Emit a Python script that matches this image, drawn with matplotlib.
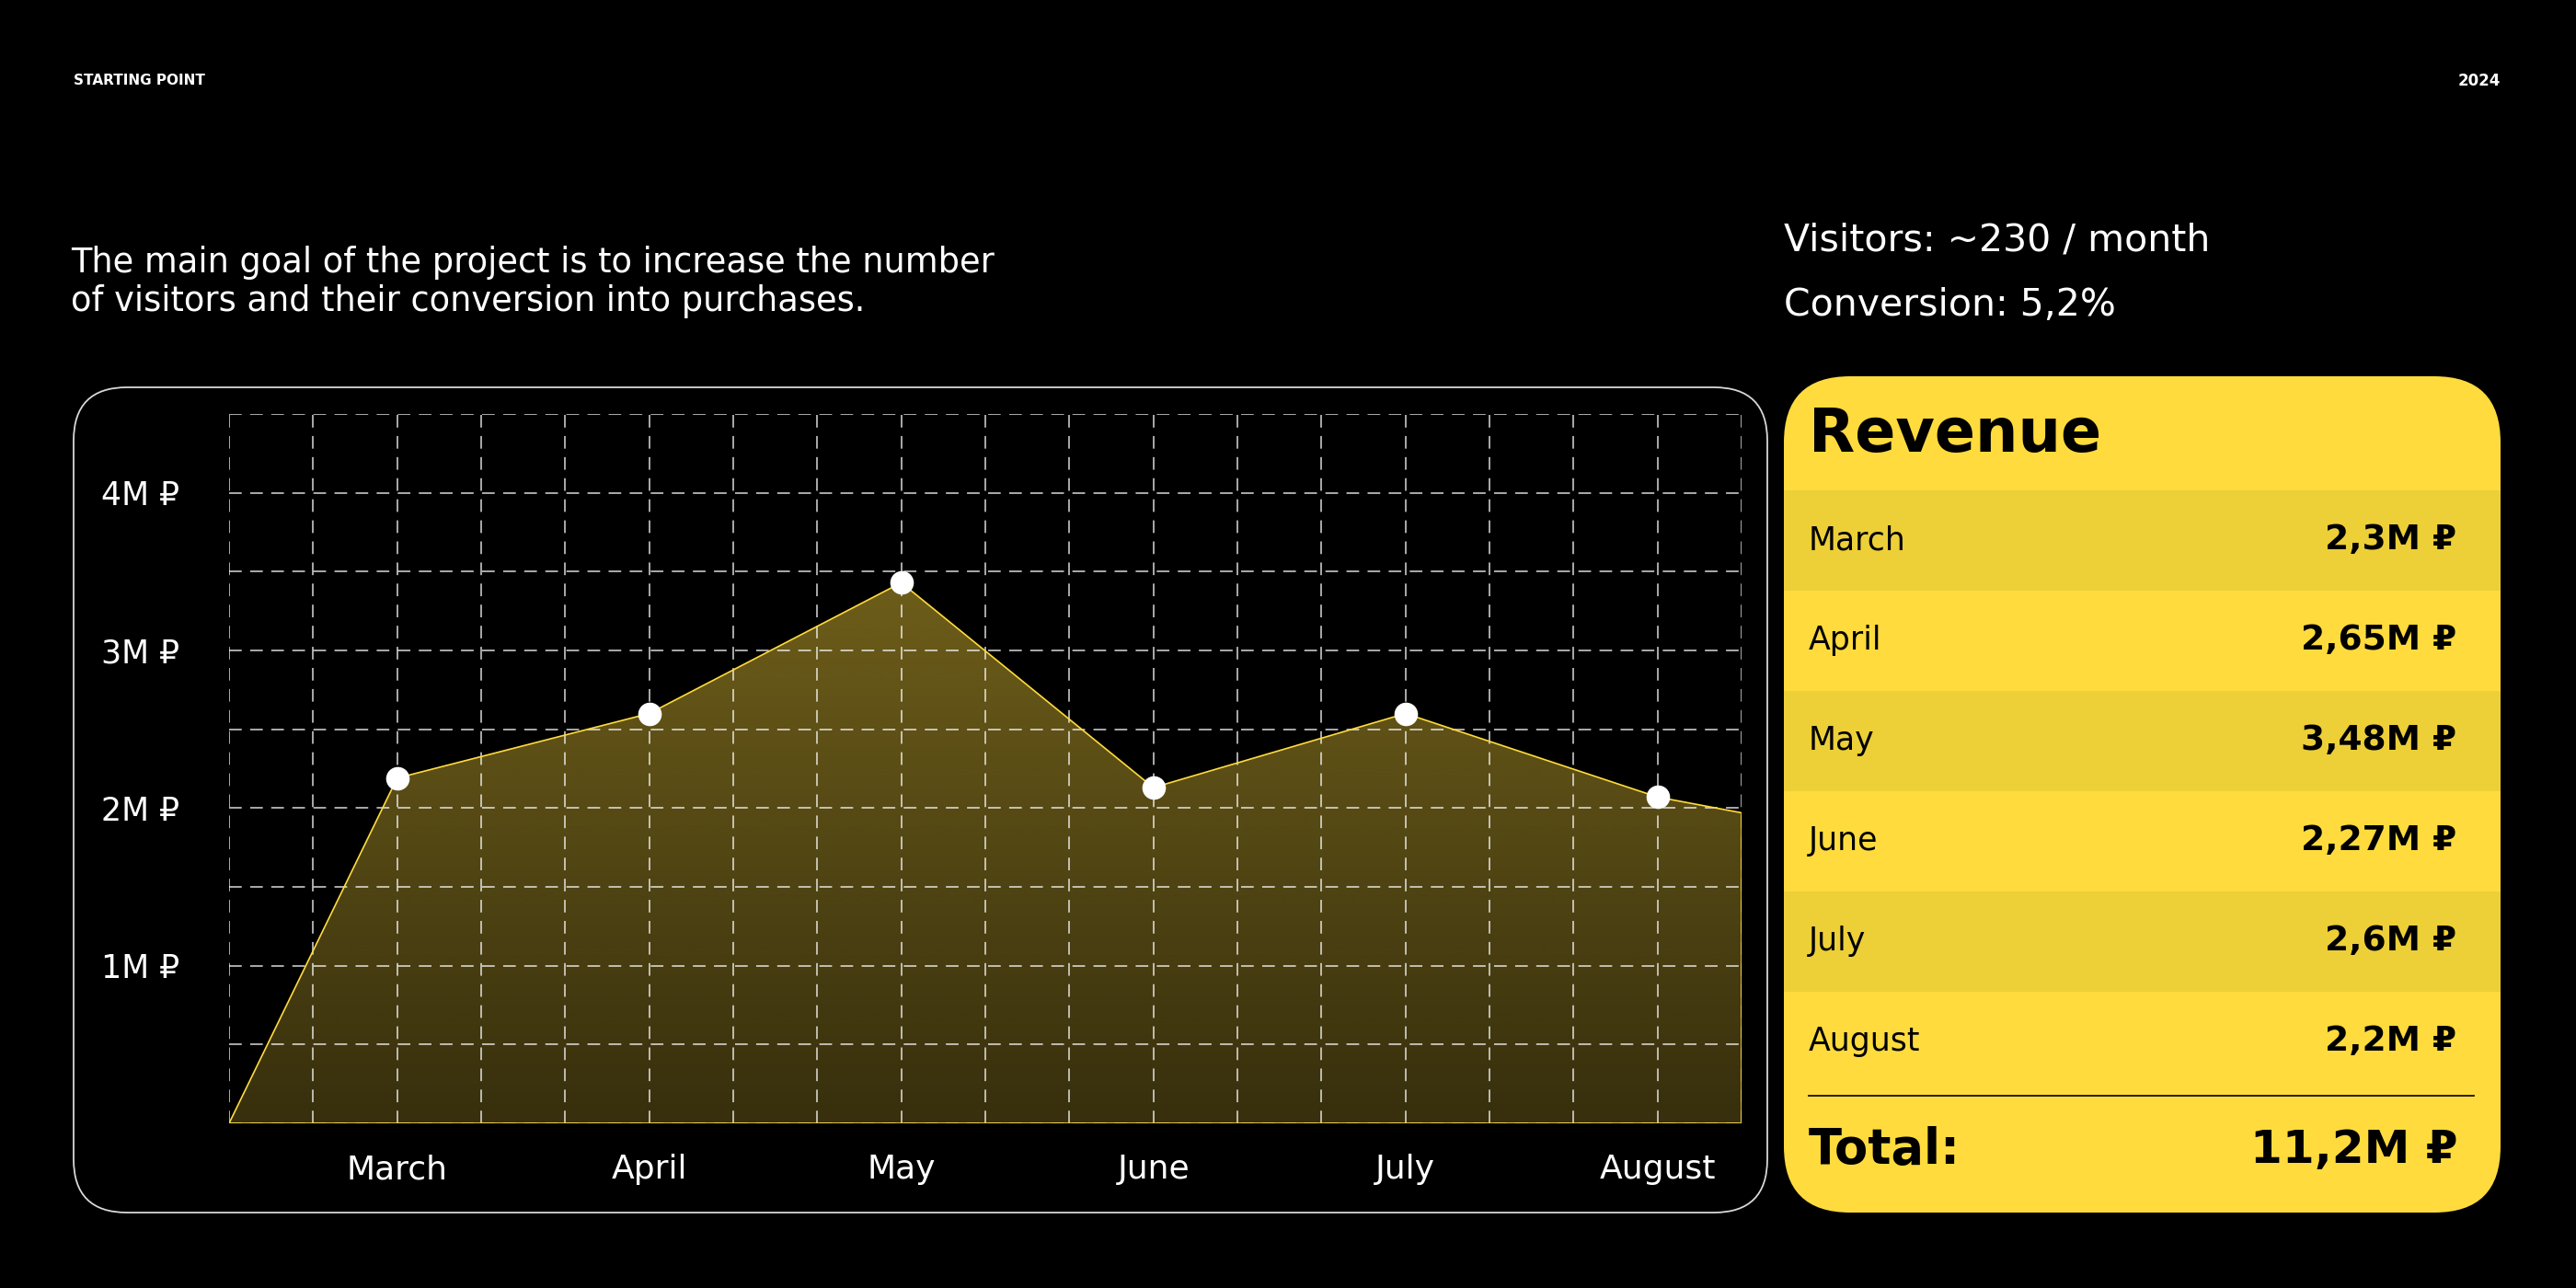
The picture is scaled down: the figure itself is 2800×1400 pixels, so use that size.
import numpy as np
import matplotlib
matplotlib.use("Agg")
import matplotlib.pyplot as plt
from matplotlib.patches import FancyBboxPatch, Rectangle, Polygon

# data (values in millions of rubles)
months = ["March", "April", "May", "June", "July", "August"]
chart_values = [2.19, 2.60, 3.43, 2.13, 2.60, 2.07]
line_start_value = 0.0      # line starts at the bottom-left corner of the grid
line_end_value = 1.97       # value where the line leaves the right edge
y_ticks = [1, 2, 3, 4]
y_tick_labels = ["1M ₽", "2M ₽", "3M ₽", "4M ₽"]

table_months = ["March", "April", "May", "June", "July", "August"]
table_values = ["2,3M ₽", "2,65M ₽", "3,48M ₽", "2,27M ₽", "2,6M ₽", "2,2M ₽"]
total_label = "Total:"
total_value = "11,2M ₽"

header_left = "STARTING POINT"
header_right = "2024"
subtitle = ["The main goal of the project is to increase the number",
            "of visitors and their conversion into purchases."]
stats = ["Visitors: ~230 / month", "Conversion: 5,2%"]

YELLOW = "#FFDB3D"
YELLOW_DARK = "#EDCF38"
W, H = 2800, 1400

plt.rcParams["font.family"] = ["DejaVu Sans"]
fig = plt.figure(figsize=(W / 100, H / 100), dpi=100, facecolor="black")

# background layer in pixel coordinates
bg = fig.add_axes([0, 0, 1, 1], zorder=0)
bg.set_xlim(0, W)
bg.set_ylim(H, 0)
bg.axis("off")
bg.set_facecolor("black")

# chart card outline
bg.add_patch(FancyBboxPatch((80, 421), 1841, 897,
                            boxstyle="round,pad=0,rounding_size=58",
                            fc="none", ec="#d8d8d8", lw=1.3))
# revenue card
bg.add_patch(FancyBboxPatch((1939, 409), 779, 909,
                            boxstyle="round,pad=0,rounding_size=72",
                            fc=YELLOW, ec="none"))

row_y0, row_step, row_h = 587, 109, 109
for i, (m, v) in enumerate(zip(table_months, table_values)):
    y = row_y0 + i * row_step
    if i % 2 == 0:
        bg.add_patch(Rectangle((1939, y - row_h / 2), 779, row_h,
                               fc=YELLOW_DARK, ec="none"))
    bg.text(1966, y, m, fontsize=25, color="black", va="center", ha="left")
    bg.text(2670, y, v, fontsize=27, color="black", va="center", ha="right",
            fontweight="bold")

bg.text(1966, 473, "Revenue", fontsize=47, fontweight="bold",
        color="black", va="center", ha="left")
bg.plot([1966, 2689], [1191, 1191], color="#111111", lw=1.3)
bg.text(1966, 1250, total_label, fontsize=38, fontweight="bold",
        color="black", va="center", ha="left")
bg.text(2671, 1250, total_value, fontsize=36, fontweight="bold",
        color="black", va="center", ha="right")

# header / descriptive text
bg.text(80, 88, header_left, fontsize=11, fontweight="bold",
        color="white", va="center", ha="left")
bg.text(2718, 88, header_right, fontsize=12, fontweight="bold",
        color="white", va="center", ha="right")
for i, line in enumerate(subtitle):
    bg.text(77, 286 + i * 41, line, fontsize=26.5, color="white",
            va="center", ha="left")
for i, line in enumerate(stats):
    bg.text(1939, 262 + i * 70, line, fontsize=29.5, color="white",
            va="center", ha="left")

# chart
ax = fig.add_axes([249 / W, (H - 1221) / H, 1644 / W, 771 / H], zorder=1)
ax.set_facecolor("none")
x = np.arange(len(months))
x_lo, x_hi = -2 / 3, len(months) - 2 / 3
ax.set_xlim(x_lo, x_hi)
ax.set_ylim(0, 4.5)

xs = np.concatenate([[x_lo], x, [x_hi]])
ys = np.concatenate([[line_start_value], chart_values, [line_end_value]])

# gradient fill under the line
poly = Polygon(np.column_stack([np.concatenate([xs, [x_hi, x_lo]]),
                                np.concatenate([ys, [0, 0]])]),
               closed=True, fc="none", ec="none", transform=ax.transData)
ax.add_patch(poly)
grad = np.zeros((256, 1, 4))
grad[..., 0], grad[..., 1], grad[..., 2] = 1.0, 217 / 255, 61 / 255
grad[..., 3] = np.linspace(0.22, 0.50, 256)[:, None]
im = ax.imshow(grad, extent=(x_lo, x_hi, 0, 4.5), origin="lower",
               aspect="auto", zorder=1, interpolation="bilinear")
im.set_clip_path(poly)

ax.plot(np.concatenate([xs, [x_hi, x_lo]]), np.concatenate([ys, [0, 0]]),
        color=YELLOW, lw=1.2, zorder=3, solid_joinstyle="round")
ax.scatter(x, chart_values, s=340, color="white", zorder=5, lw=0)

# grid: one line every third of a month and every 0.5M
ax.set_xticks(x)
ax.set_xticklabels(months)
ax.set_xticks(np.arange(x_lo, x_hi + 0.01, 1 / 3), minor=True)
ax.set_yticks(y_ticks)
ax.set_yticklabels(y_tick_labels)
ax.set_yticks(np.arange(0, 4.51, 0.5), minor=True)
ax.grid(which="both", color="white", alpha=0.85, lw=1.1,
        linestyle=(0, (9, 6)), zorder=2)
ax.set_axisbelow(False)
ax.tick_params(which="both", length=0)
ax.tick_params(axis="x", colors="white", labelsize=26, pad=24)
ax.tick_params(axis="y", colors="white", labelsize=25, pad=100)
for lab in ax.get_yticklabels():
    lab.set_horizontalalignment("left")
for s in ax.spines.values():
    s.set_visible(False)

fig.savefig("out.png", dpi=100, facecolor="black")
